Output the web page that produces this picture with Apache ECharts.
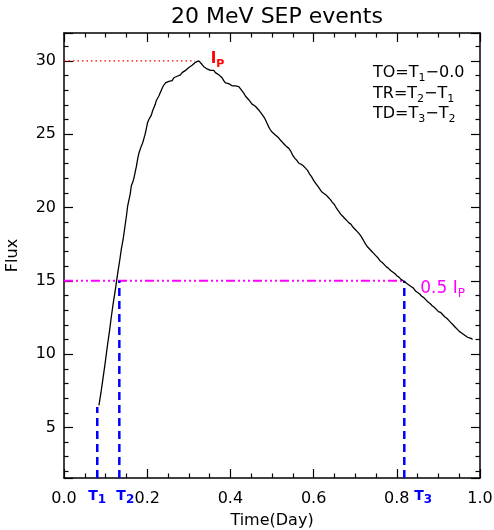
<!DOCTYPE html>
<html>
<head>
<meta charset="utf-8">
<script src="https://cdn.jsdelivr.net/npm/echarts@6/dist/echarts.min.js"></script>
<style>
  html, body { margin: 0; padding: 0; background: #fff; }
  #echarts { width: 494px; height: 530px; }
</style>
</head>
<body>
<div id="echarts"></div>
<script>
var times = [0.084, 0.089, 0.094, 0.099, 0.104, 0.109, 0.114, 0.119, 0.124, 0.129, 0.134, 0.138, 0.142, 0.146, 0.150, 0.153, 0.156, 0.159, 0.162, 0.165,
    0.168, 0.171, 0.174, 0.177, 0.180, 0.183, 0.186, 0.189, 0.192, 0.195, 0.198, 0.201, 0.204, 0.207, 0.210, 0.213, 0.216, 0.219, 0.222, 0.225,
    0.228, 0.231, 0.234, 0.237, 0.240, 0.244, 0.248, 0.252, 0.256, 0.260, 0.264, 0.268, 0.272, 0.276, 0.280, 0.284, 0.288, 0.292, 0.296, 0.300,
    0.304, 0.308, 0.312, 0.316, 0.320, 0.324, 0.328, 0.332, 0.336, 0.340, 0.344, 0.348, 0.352, 0.356, 0.360, 0.364, 0.368, 0.372, 0.376, 0.380,
    0.384, 0.388, 0.392, 0.396, 0.400, 0.404, 0.408, 0.412, 0.416, 0.420, 0.424, 0.428, 0.432, 0.436, 0.440, 0.444, 0.448, 0.452, 0.456, 0.460,
    0.464, 0.468, 0.472, 0.476, 0.480, 0.484, 0.488, 0.492, 0.496, 0.500, 0.504, 0.508, 0.512, 0.516, 0.520, 0.525, 0.530, 0.535, 0.540, 0.545,
    0.550, 0.555, 0.560, 0.565, 0.570, 0.575, 0.580, 0.585, 0.590, 0.595, 0.600, 0.605, 0.610, 0.615, 0.620, 0.625, 0.630, 0.635, 0.640, 0.645,
    0.650, 0.655, 0.660, 0.665, 0.670, 0.675, 0.680, 0.685, 0.690, 0.695, 0.700, 0.705, 0.710, 0.715, 0.720, 0.725, 0.730, 0.735, 0.740, 0.745,
    0.750, 0.755, 0.760, 0.765, 0.770, 0.775, 0.780, 0.785, 0.790, 0.795, 0.800, 0.805, 0.810, 0.815, 0.820, 0.825, 0.830, 0.835, 0.840, 0.845,
    0.850, 0.855, 0.860, 0.865, 0.870, 0.875, 0.880, 0.885, 0.890, 0.895, 0.900, 0.905, 0.910, 0.915, 0.920, 0.925, 0.930, 0.935, 0.940, 0.945,
    0.950, 0.955, 0.960, 0.965, 0.970, 0.975, 0.980, 0.982];
var flux = [6.5, 7.4, 8.4, 9.4, 10.5, 11.5, 12.6, 13.6, 14.5, 15.5, 16.4, 17.2, 17.8, 18.6, 19.4, 20.1, 20.5, 20.9, 21.5, 21.7,
    22.0, 22.4, 22.8, 23.3, 23.7, 23.8, 24.2, 24.4, 24.7, 25.0, 25.4, 25.8, 26.0, 26.1, 26.3, 26.6, 26.8, 27.0, 27.3, 27.4,
    27.6, 27.8, 28.0, 28.2, 28.35, 28.5, 28.45, 28.6, 28.7, 28.65, 28.85, 28.8, 28.95, 29.0, 29.05, 29.2, 29.15, 29.35, 29.45, 29.55,
    29.65, 29.7, 29.8, 29.9, 29.95, 30.0, 29.9, 29.75, 29.6, 29.55, 29.45, 29.5, 29.35, 29.3, 29.35, 29.2, 29.15, 29.05, 29.0, 28.85,
    28.65, 28.5, 28.4, 28.45, 28.35, 28.3, 28.4, 28.3, 28.35, 28.25, 28.1, 27.95, 27.8, 27.6, 27.5, 27.35, 27.2, 27.05, 26.95, 26.9,
    26.8, 26.65, 26.5, 26.35, 26.2, 26.0, 25.75, 25.5, 25.3, 25.15, 25.05, 24.95, 24.85, 24.75, 24.6, 24.45, 24.3, 24.15, 24.05, 23.85,
    23.55, 23.35, 23.2, 23.0, 22.95, 22.85, 22.7, 22.55, 22.3, 22.1, 21.85, 21.65, 21.45, 21.25, 21.05, 20.95, 20.85, 20.7, 20.55, 20.35,
    20.2, 19.95, 19.75, 19.55, 19.4, 19.25, 19.1, 18.95, 18.85, 18.65, 18.5, 18.35, 18.2, 18.0, 17.75, 17.5, 17.3, 17.15, 17.0, 16.85,
    16.7, 16.55, 16.35, 16.25, 16.1, 15.95, 15.85, 15.7, 15.6, 15.5, 15.35, 15.25, 15.1, 15.0, 14.9, 14.8, 14.7, 14.6, 14.5, 14.3,
    14.2, 14.1, 13.95, 13.85, 13.7, 13.55, 13.45, 13.3, 13.2, 13.05, 12.9, 12.85, 12.7, 12.55, 12.45, 12.3, 12.15, 12.0, 11.85, 11.7,
    11.55, 11.45, 11.35, 11.25, 11.15, 11.1, 11.05, 11.0];

var xTicks = [0.0, 0.2, 0.4, 0.6, 0.8, 1.0];
var yTicks = [5, 10, 15, 20, 25, 30];

var peakFlux = 30.0;      // I_P
var peakLineEnd = 0.315;
var halfFlux = 15.0;      // 0.5 I_P
var t1 = 0.080, t2 = 0.133, t3 = 0.818;
var t1Flux = 6.4;

var xMin = 0, xMax = 1;
var yMin = 1.55, yMax = 31.9;

var font = 'DejaVu Sans';

function curveData() {
    var d = [];
    for (var i = 0; i < times.length; i++) {
        d.push([times[i], flux[i]]);
    }
    return d;
}

function axisCommon() {
    return {
        axisLine: { show: true, onZero: false, lineStyle: { color: '#000', width: 1.5 } },
        axisTick: { show: true, inside: true, length: 9, lineStyle: { color: '#000', width: 1.2 } },
        minorTick: { show: true, length: 4.5, lineStyle: { color: '#000', width: 1.2 } },
        splitLine: { show: false }
    };
}

var xBottom = Object.assign(axisCommon(), {
    type: 'value', position: 'bottom', min: xMin, max: xMax, interval: 0.2,
    name: 'Time(Day)', nameLocation: 'middle', nameGap: 35,
    nameTextStyle: { fontFamily: font, fontSize: 16, color: '#000' },
    axisLabel: { margin: 13, fontFamily: font, fontSize: 16, color: '#000',
        formatter: function (v) { return xTicks.indexOf(Math.round(v * 10) / 10) >= 0 ? v.toFixed(1) : ''; } }
});
xBottom.minorTick.splitNumber = 4;
var xTop = Object.assign(axisCommon(), {
    type: 'value', position: 'top', min: xMin, max: xMax, interval: 0.2, axisLabel: { show: false }
});
xTop.minorTick.splitNumber = 4;

var yLeft = Object.assign(axisCommon(), {
    type: 'value', position: 'left', min: yMin, max: yMax, splitNumber: 5,
    name: 'Flux', nameLocation: 'middle', nameGap: 43, nameRotate: 90,
    nameTextStyle: { fontFamily: font, fontSize: 16, color: '#000' },
    axisLabel: { margin: 8, fontFamily: font, fontSize: 16, color: '#000',
        formatter: function (v) { return yTicks.indexOf(v) >= 0 ? String(v) : ''; } }
});
yLeft.minorTick.splitNumber = 5;
var yRight = Object.assign(axisCommon(), {
    type: 'value', position: 'right', min: yMin, max: yMax, splitNumber: 5, axisLabel: { show: false }
});
yRight.minorTick.splitNumber = 5;

var myChart = echarts.init(document.getElementById('echarts'), null, { renderer: 'canvas' });

var option = {
    animation: false,
    backgroundColor: '#fff',
    title: {
        text: '20 MeV SEP events', left: 272, top: 1, textAlign: 'center',
        textStyle: { fontFamily: font, fontSize: 22, fontWeight: 'normal', color: '#000' }
    },
    grid: { left: 64, right: 14, top: 33, bottom: 52, containLabel: false, outerBoundsMode: 'none' },
    xAxis: [xBottom, xTop],
    yAxis: [yLeft, yRight],
    series: [
        {
            name: 'peak', type: 'line', showSymbol: false, silent: true,
            data: [[xMin, peakFlux], [peakLineEnd, peakFlux]],
            lineStyle: { color: '#ff0000', width: 1.2, type: [1.5, 3] }
        },
        {
            name: 'half', type: 'line', showSymbol: false, silent: true,
            data: [[xMin, halfFlux], [t3, halfFlux]],
            lineStyle: { color: '#ff00ff', width: 2, type: [9, 3, 2, 3, 2, 3, 2, 3] }
        },
        {
            name: 'T1', type: 'line', showSymbol: false, silent: true,
            data: [[t1, yMin], [t1, t1Flux]],
            lineStyle: { color: '#0000ff', width: 2.5, type: [8, 5] }
        },
        {
            name: 'T2', type: 'line', showSymbol: false, silent: true,
            data: [[t2, yMin], [t2, halfFlux]],
            lineStyle: { color: '#0000ff', width: 2.5, type: [8, 5] }
        },
        {
            name: 'T3', type: 'line', showSymbol: false, silent: true,
            data: [[t3, yMin], [t3, halfFlux]],
            lineStyle: { color: '#0000ff', width: 2.5, type: [8, 5] }
        },
        {
            name: 'flux', type: 'line', showSymbol: false, silent: true,
            data: curveData(),
            lineStyle: { color: '#000', width: 1.3 }
        }
    ]
};

myChart.setOption(option);

// annotations placed relative to the data positions
function px(x, y) { return myChart.convertToPixel({ gridIndex: 0 }, [x, y]); }

function subText(id, x, y, main, sub, color, mainSize, subSize, bold) {
    return {
        type: 'text', id: id, x: x, y: y,
        style: {
            text: '{m|' + main + '}{s|' + sub + '}',
            verticalAlign: 'middle', align: 'left',
            rich: {
                m: { fontFamily: font, fontSize: mainSize, fontWeight: bold ? 'bold' : 'normal', fill: color, color: color, lineHeight: mainSize + 6, verticalAlign: 'middle' },
                s: { fontFamily: font, fontSize: subSize, fontWeight: bold ? 'bold' : 'normal', fill: color, color: color, lineHeight: subSize, verticalAlign: 'bottom' }
            }
        }
    };
}

var bottomY = px(0, yMin)[1];
var pk = px(0.355, peakFlux);
var hf = px(t3, halfFlux);

function formulaText(id, x, y, parts) {
    var s = '';
    for (var i = 0; i < parts.length; i++) {
        s += (i % 2 === 0 ? '{m|' : '{s|') + parts[i] + '}';
    }
    return {
        type: 'text', id: id, x: x, y: y,
        style: {
            text: s, verticalAlign: 'middle', align: 'left',
            rich: {
                m: { fontFamily: font, fontSize: 16, fill: '#000', color: '#000', lineHeight: 22, verticalAlign: 'middle' },
                s: { fontFamily: font, fontSize: 11, fill: '#000', color: '#000', lineHeight: 11, verticalAlign: 'bottom' }
            }
        }
    };
}

myChart.setOption({
    graphic: [
        subText('ip', pk[0] - 1, pk[1] - 2, 'I', 'P', '#ff0000', 15, 11, true),
        subText('halfip', hf[0] + 16, hf[1] + 8, '0.5 I', 'P', '#ff00ff', 17, 12, false),
        subText('lt1', px(t1, 0)[0] - 9, bottomY + 18, 'T', '1', '#0000ff', 14, 12, true),
        subText('lt2', px(t2, 0)[0] - 3, bottomY + 18, 'T', '2', '#0000ff', 14, 12, true),
        subText('lt3', px(t3, 0)[0] + 10, bottomY + 18, 'T', '3', '#0000ff', 14, 12, true),
        formulaText('f1', 373, 73, ['TO=T', '1', '\u22120.0']),
        formulaText('f2', 373, 94, ['TR=T', '2', '\u2212T', '1', '']),
        formulaText('f3', 373, 114, ['TD=T', '3', '\u2212T', '2', ''])
    ]
});
</script>
</body>
</html>
